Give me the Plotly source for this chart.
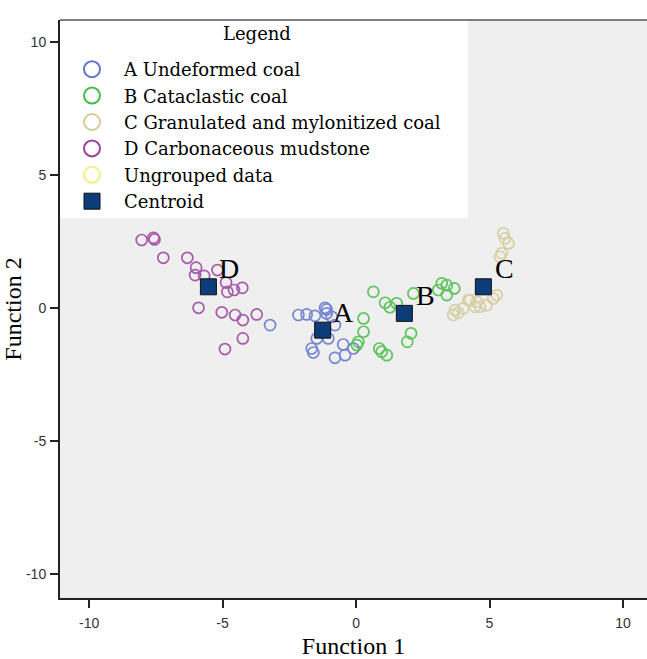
import plotly.graph_objects as go

# Group A: Undeformed coal
a_x = [-3.22, -2.16, -1.85, -1.54, -1.16, -1.10, -0.91, -0.79, -1.47, -1.04, -1.66, -1.60, -0.79, -0.41, -0.48, -0.10, -1.10]
a_y = [-0.64, -0.26, -0.24, -0.29, 0.01, -0.20, -0.33, -0.64, -1.14, -1.14, -1.52, -1.67, -1.87, -1.77, -1.37, -1.52, -0.05]
# Group B: Cataclastic coal
b_x = [0.65, 1.09, 1.27, 1.52, 2.15, 0.28, 0.28, 0.09, 0.87, 0.96, 1.15, 2.06, 1.92, 3.21, 3.40, 3.08, 3.40, 3.68, 0.03]
b_y = [0.61, 0.20, 0.03, 0.18, 0.55, -0.39, -0.89, -1.27, -1.52, -1.64, -1.77, -0.95, -1.27, 0.93, 0.86, 0.68, 0.49, 0.74, -1.39]
# Group C: Granulated and mylonitized coal
c_x = [5.52, 5.58, 5.71, 5.46, 5.39, 4.27, 4.52, 4.64, 4.89, 5.14, 5.27, 3.71, 4.02, 3.64, 3.83, 4.46, 4.21]
c_y = [2.81, 2.62, 2.43, 2.06, 1.93, 0.30, 0.24, 0.05, 0.11, 0.36, 0.49, -0.08, -0.01, -0.26, -0.18, 0.05, 0.30]
# Group D: Carbonaceous mudstone
d_x = [-8.03, -7.59, -7.55, -7.22, -6.32, -5.99, -6.03, -5.69, -5.19, -4.87, -4.82, -4.57, -4.26, -5.90, -5.03, -4.53, -4.24, -3.72, -4.24, -4.91]
d_y = [2.56, 2.64, 2.58, 1.89, 1.89, 1.52, 1.24, 1.21, 1.43, 0.96, 0.61, 0.68, 0.76, 0.01, -0.16, -0.26, -0.45, -0.24, -1.14, -1.54]
# Centroids
cent_labels = ["A", "B", "C", "D"]
cent_x = [-1.25, 1.81, 4.77, -5.53]
cent_y = [-0.83, -0.20, 0.80, 0.80]

tick_vals = [-10, -5, 0, 5, 10]
tick_text = ["-10", "-5", "0", "5", "10"]

groups = [
    ("A Undeformed coal", a_x, a_y, "#6176cc"),
    ("B Cataclastic coal", b_x, b_y, "#45bd45"),
    ("C Granulated and mylonitized coal", c_x, c_y, "#d3cb98"),
    ("D Carbonaceous mudstone", d_x, d_y, "#9a429c"),
]
ungrouped_color = "#f3ee86"
centroid_color = "#0d3d78"
LEG_FONT = "DejaVu Serif"

# pixel layout of the plot area
W, H = 647, 659
L, T, R, B = 60, 20, 647, 598
PW, PH = R - L, B - T


def px(xp):
    return (xp - L) / PW


def py(yp):
    return (B - yp) / PH


fig = go.Figure()
for name, xs, ys, col in groups:
    fig.add_trace(go.Scatter(
        x=xs, y=ys, mode="markers", name=name, showlegend=False,
        marker=dict(symbol="circle-open", size=11, color=col, line=dict(width=1.7)),
        opacity=0.85,
    ))
fig.add_trace(go.Scatter(
    x=cent_x, y=cent_y, mode="markers", name="Centroid", showlegend=False,
    marker=dict(symbol="square", size=16, color=centroid_color, line=dict(width=1, color="#111111")),
))
# legend entries (no data drawn)
for name, _, _, col in groups + [("Ungrouped data", None, None, ungrouped_color)]:
    fig.add_trace(go.Scatter(
        x=[None], y=[None], mode="markers", name=name,
        marker=dict(symbol="circle-open", size=16, color=col, line=dict(width=2)),
    ))
fig.add_trace(go.Scatter(
    x=[None], y=[None], mode="markers", name="Centroid",
    marker=dict(symbol="square", size=16, color=centroid_color, line=dict(width=1, color="#111111")),
))

for lab, cx, cy in zip(cent_labels, cent_x, cent_y):
    fig.add_annotation(x=cx, y=cy, text=lab, showarrow=False, xshift=21, yshift=18,
                       font=dict(family="Liberation Serif", size=28, color="black"))

# legend box and title
fig.add_shape(type="rect", xref="paper", yref="paper", x0=0, x1=px(468), y0=py(218), y1=1,
              fillcolor="white", line=dict(width=0), layer="below")
fig.add_annotation(xref="paper", yref="paper", x=px(257), y=py(33),
                   text="Legend", showarrow=False, xanchor="center", yanchor="middle",
                   font=dict(family=LEG_FONT, size=18, color="black"))

axis_common = dict(
    showgrid=False, zeroline=False, showline=True, linecolor="#222222", linewidth=2,
    ticks="outside", ticklen=8, tickwidth=1.5, tickcolor="#222222",
    tickfont=dict(family="Liberation Sans", size=14, color="#333333"),
    tickvals=tick_vals, ticktext=tick_text, automargin=False,
)
fig.update_xaxes(**axis_common, range=[-11.09, 10.90], ticklabelstandoff=3,
                 title=dict(text="Function 1", font=dict(family="Liberation Serif", size=24, color="black"), standoff=12))
fig.update_yaxes(**axis_common, range=[-10.90, 10.83], ticklabelstandoff=1,
                 title=dict(text="Function 2", font=dict(family="Liberation Serif", size=24, color="black"), standoff=6))
fig.add_shape(type="line", xref="paper", yref="paper", x0=0, x1=1, y0=1, y1=1,
              line=dict(color="#555555", width=1.5))

fig.update_layout(
    width=W, height=H,
    margin=dict(l=L, r=W - R, t=T, b=H - B, autoexpand=False),
    paper_bgcolor="white", plot_bgcolor="#efefef",
    showlegend=True,
    legend=dict(
        x=0.0, y=py(51), xanchor="left", yanchor="top",
        bgcolor="rgba(0,0,0,0)",
        font=dict(family=LEG_FONT, size=18, color="black"),
        itemsizing="trace", itemwidth=54, tracegroupgap=0,
    ),
)

fig.write_html("out.html", config={"displayModeBar": False},
               post_script="document.body.style.margin='0px';")
